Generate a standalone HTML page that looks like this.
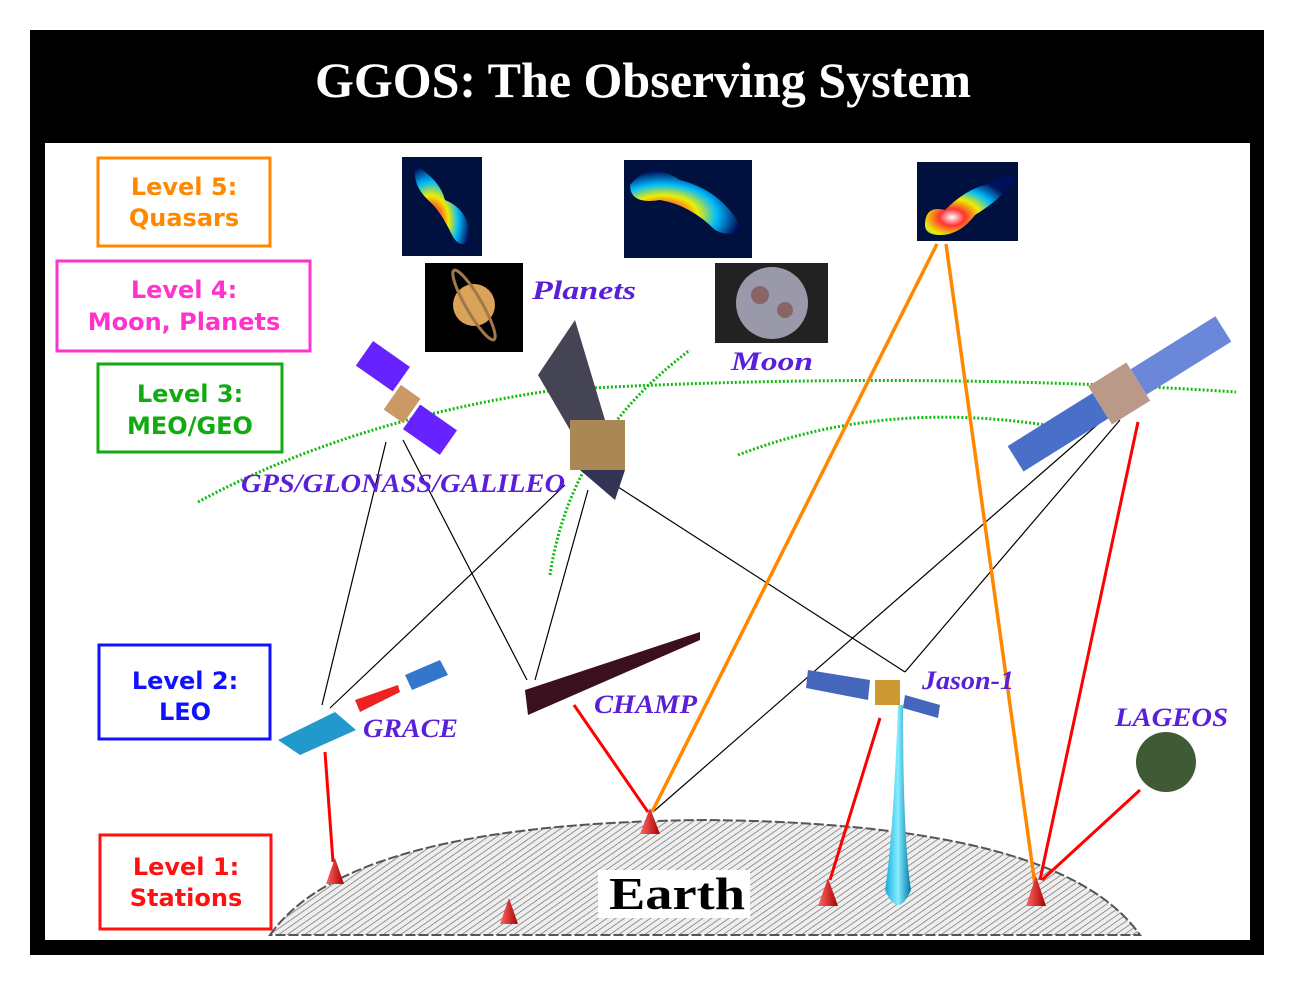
<!DOCTYPE html>
<html><head><meta charset="utf-8"><style>
html,body{margin:0;padding:0;background:#fff;}
svg{display:block}
.lv{font-family:"DejaVu Sans",sans-serif;font-weight:bold;font-size:24px;text-anchor:middle}
.lab{font-family:"Liberation Serif",serif;font-style:italic;font-weight:bold;fill:#5a1fd8;font-size:26px}
</style></head><body>
<svg width="1294" height="1000" viewBox="0 0 1294 1000" xmlns="http://www.w3.org/2000/svg">
<defs>
<pattern id="h" width="5" height="5" patternUnits="userSpaceOnUse" patternTransform="rotate(55)">
<rect width="5" height="5" fill="#eee"/><line x1="0" y1="0" x2="0" y2="5" stroke="#666" stroke-width="1.3"/></pattern>
<radialGradient id="q" cx="0.3" cy="0.7" r="0.7"><stop offset="0" stop-color="#fff"/><stop offset="0.2" stop-color="#f33"/><stop offset="0.45" stop-color="#ee0"/><stop offset="0.7" stop-color="#0bf"/><stop offset="1" stop-color="#00105a"/></radialGradient>
<linearGradient id="cone" x1="0" x2="1"><stop offset="0" stop-color="#f66"/><stop offset="1" stop-color="#a00"/></linearGradient>
<linearGradient id="beam" x1="0" x2="1"><stop offset="0" stop-color="#1ad"/><stop offset="0.5" stop-color="#8ef"/><stop offset="1" stop-color="#07a"/></linearGradient>
</defs>
<rect x="30" y="30" width="1234" height="925" fill="#000"/>
<rect x="45" y="143" width="1205" height="797" fill="#fff"/>
<text x="643" y="97" fill="#fff" font-family="Liberation Serif,serif" font-weight="bold" font-size="50" text-anchor="middle">GGOS: The Observing System</text>

<path d="M270,935 C330,850 500,822 705,820 C910,822 1080,850 1140,935 Z" fill="url(#h)" stroke="#555" stroke-width="2" stroke-dasharray="10 3"/>
<rect x="598" y="870" width="152" height="48" fill="#fff"/>
<text x="677" y="909" font-family="Liberation Serif,serif" font-weight="bold" font-size="46" text-anchor="middle" textLength="136" lengthAdjust="spacingAndGlyphs">Earth</text>

<rect x="98" y="158" width="172" height="88" fill="none" stroke="#f80" stroke-width="3"/>
<text class="lv" x="184" y="195" fill="#f80">Level 5:</text><text class="lv" x="184" y="226" fill="#f80">Quasars</text>
<rect x="57" y="261" width="253" height="90" fill="none" stroke="#f3c" stroke-width="3"/>
<text class="lv" x="184" y="298" fill="#f3c">Level 4:</text><text class="lv" x="184" y="330" fill="#f3c">Moon, Planets</text>
<rect x="98" y="364" width="184" height="88" fill="none" stroke="#1a1" stroke-width="3"/>
<text class="lv" x="190" y="402" fill="#1a1">Level 3:</text><text class="lv" x="190" y="434" fill="#1a1">MEO/GEO</text>
<rect x="99" y="645" width="171" height="94" fill="none" stroke="#11f" stroke-width="3"/>
<text class="lv" x="185" y="689" fill="#11f">Level 2:</text><text class="lv" x="185" y="720" fill="#11f">LEO</text>
<rect x="100" y="835" width="171" height="94" fill="none" stroke="#f11" stroke-width="3"/>
<text class="lv" x="186" y="875" fill="#f11">Level 1:</text><text class="lv" x="186" y="906" fill="#f11">Stations</text>

<rect x="402" y="157" width="80" height="99" fill="#00103f"/>
<path d="M415,165 Q440,180 445,200 Q470,210 470,240 Q460,250 452,235 Q440,210 428,200 Q412,185 415,165Z" fill="url(#q)"/>
<rect x="624" y="160" width="128" height="98" fill="#00103f"/>
<path d="M630,185 Q650,160 680,180 Q720,190 740,225 Q735,240 715,230 Q690,205 660,200 Q630,205 630,185Z" fill="url(#q)"/>
<rect x="917" y="162" width="101" height="79" fill="#00103f"/>
<path d="M925,225 Q925,205 945,210 Q965,190 985,185 Q1005,170 1015,180 Q1000,200 975,215 Q960,235 940,235 Q925,235 925,225Z" fill="url(#q)"/>
<rect x="425" y="263" width="98" height="89" fill="#000"/>
<circle cx="474" cy="305" r="21" fill="#d9a45a"/>
<ellipse cx="474" cy="305" rx="8" ry="40" transform="rotate(-30 474 305)" fill="none" stroke="#a0784a" stroke-width="3"/>
<text class="lab" x="532" y="299" font-size="32" textLength="104" lengthAdjust="spacingAndGlyphs">Planets</text>
<rect x="715" y="263" width="113" height="80" fill="#222"/>
<circle cx="772" cy="303" r="36" fill="#99a"/>
<circle cx="760" cy="295" r="9" fill="#866"/><circle cx="785" cy="310" r="8" fill="#866"/>
<text class="lab" x="731" y="370" font-size="32" textLength="82" lengthAdjust="spacingAndGlyphs">Moon</text>

<g fill="none" stroke="#1b1" stroke-width="3" stroke-dasharray="2 2">
<path d="M198,502 Q350,420 555,390 Q900,370 1236,392"/>
<path d="M738,455 Q880,400 1045,425"/>
<path d="M550,575 Q570,440 690,350"/>
</g>

<g stroke="#000" stroke-width="1.2">
<line x1="386" y1="442" x2="322" y2="705"/>
<line x1="403" y1="440" x2="527" y2="680"/>
<line x1="565" y1="485" x2="330" y2="708"/>
<line x1="588" y1="490" x2="535" y2="680"/>
<line x1="615" y1="485" x2="905" y2="672"/>
<line x1="1105" y1="418" x2="653" y2="812"/>
<line x1="1120" y1="420" x2="905" y2="672"/>
</g>
<g stroke="#f80" stroke-width="3.5">
<line x1="937" y1="244" x2="652" y2="812"/><line x1="946" y1="244" x2="1035" y2="885"/>
</g>
<g stroke="#f00" stroke-width="3">
<line x1="325" y1="752" x2="333" y2="862"/><line x1="574" y1="705" x2="648" y2="812"/>
<line x1="880" y1="718" x2="830" y2="880"/><line x1="1138" y1="422" x2="1040" y2="880"/>
<line x1="1140" y1="790" x2="1042" y2="880"/>
</g>
<path d="M898,705 Q893,840 885,890 Q898,920 911,890 Q903,840 903,705Z" fill="url(#beam)"/>

<g fill="url(#cone)">
<path d="M335,858 L326,884 L344,884Z"/><path d="M650,808 L640,834 L660,834Z"/>
<path d="M509,898 L500,924 L518,924Z"/><path d="M828,878 L818,906 L838,906Z"/>
<path d="M1036,876 L1026,906 L1046,906Z"/>
</g>

<g transform="rotate(35 405 400)">
<rect x="345" y="370" width="45" height="30" fill="#62f"/><rect x="420" y="395" width="45" height="30" fill="#62f"/>
<rect x="393" y="390" width="24" height="30" fill="#c96"/>
</g>
<path d="M538,375 L575,320 L605,420 L570,430Z" fill="#445"/>
<rect x="570" y="420" width="55" height="50" fill="#a85"/>
<path d="M580,470 L615,500 L625,470Z" fill="#335"/>
<text class="lab" x="241" y="492" font-size="26" textLength="324" lengthAdjust="spacingAndGlyphs">GPS/GLONASS/GALILEO</text>

<g transform="rotate(-32 1120 390)">
<rect x="995" y="378" width="100" height="30" fill="#4a6fc9"/>
<rect x="1140" y="378" width="100" height="30" fill="#6a87d9"/>
<rect x="1095" y="370" width="45" height="45" fill="#b98"/>
</g>

<path d="M278,740 L335,712 L356,730 L300,755Z" fill="#29c"/>
<path d="M405,675 L440,660 L448,675 L412,690Z" fill="#37c"/>
<path d="M355,700 L398,685 L400,692 L360,712Z" fill="#e22"/>
<text class="lab" x="363" y="737" font-size="27" textLength="95" lengthAdjust="spacingAndGlyphs">GRACE</text>
<path d="M525,690 L700,632 L700,640 L528,715Z" fill="#3a1020"/>
<text class="lab" x="594" y="713" font-size="27" textLength="103" lengthAdjust="spacingAndGlyphs">CHAMP</text>
<path d="M808,670 L870,680 L868,700 L806,688Z" fill="#46b"/>
<path d="M905,695 L940,705 L938,718 L903,708Z" fill="#46b"/>
<rect x="875" y="680" width="25" height="25" fill="#c93"/>
<text class="lab" x="922" y="689" font-size="26" textLength="92" lengthAdjust="spacingAndGlyphs">Jason-1</text>
<text class="lab" x="1115" y="726" font-size="26" textLength="113" lengthAdjust="spacingAndGlyphs">LAGEOS</text>
<circle cx="1166" cy="762" r="30" fill="#3f5a34"/>
</svg>
</body></html>
